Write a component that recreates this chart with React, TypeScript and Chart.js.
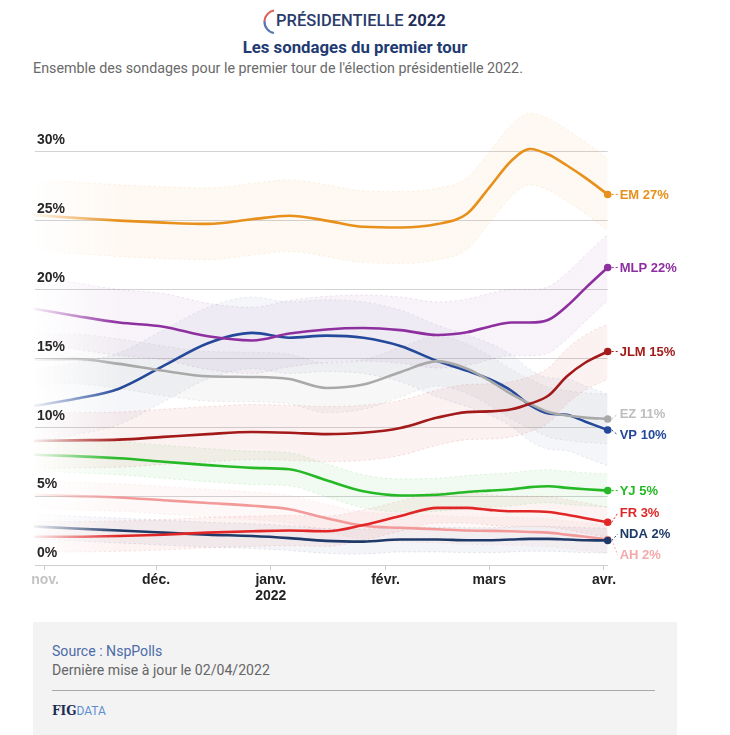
import React, { useEffect, useRef } from 'react';
import { Chart, registerables } from 'chart.js';

Chart.register(...registerables);

// Days counted from 1 Nov 2021
const DAYS = [-3, 8, 20, 32, 44, 56, 66, 76, 86, 96, 106, 114, 120, 126, 131, 136, 141, 146, 152];

const EM = [25.4, 25.2, 25.0, 24.85, 24.76, 25.1, 25.35, 25.0, 24.55, 24.5, 24.75, 25.5, 27.4, 29.35, 30.2, 29.8, 29.0, 28.1, 26.9];
const MLP = [18.6, 18.1, 17.6, 17.3, 16.6, 16.3, 16.8, 17.1, 17.2, 17.05, 16.7, 16.9, 17.3, 17.6, 17.6, 17.8, 18.8, 20.1, 21.6];
const JLM = [9.0, 9.05, 9.1, 9.3, 9.5, 9.65, 9.6, 9.5, 9.6, 9.95, 10.7, 11.1, 11.15, 11.3, 11.7, 12.3, 13.7, 14.7, 15.5];
const EZ = [14.9, 14.95, 14.6, 14.1, 13.7, 13.65, 13.5, 12.85, 13.1, 14.0, 14.8, 14.25, 13.4, 12.4, 11.7, 11.1, 10.85, 10.7, 10.6];
const VP = [11.55, 12.05, 12.8, 14.45, 16.1, 16.85, 16.5, 16.65, 16.5, 15.9, 14.8, 14.1, 13.5, 12.65, 11.6, 11.0, 10.9, 10.4, 9.8];
const YJ = [8.0, 7.9, 7.75, 7.5, 7.25, 7.05, 6.95, 6.15, 5.35, 5.05, 5.1, 5.3, 5.4, 5.5, 5.65, 5.72, 5.6, 5.5, 5.4];
const FR = [2.05, 2.05, 2.1, 2.2, 2.35, 2.45, 2.5, 2.45, 2.9, 3.55, 4.15, 4.15, 4.0, 3.9, 3.9, 3.85, 3.65, 3.4, 3.1];
const NDA = [2.8, 2.65, 2.5, 2.35, 2.2, 2.1, 1.95, 1.75, 1.7, 1.85, 1.85, 1.8, 1.8, 1.85, 1.9, 1.9, 1.85, 1.8, 1.78];
const AH = [5.1, 5.0, 4.9, 4.7, 4.5, 4.3, 4.05, 3.4, 2.85, 2.7, 2.6, 2.5, 2.48, 2.45, 2.4, 2.35, 2.2, 2.05, 1.85];

const SERIES_NAMES = ['EM', 'MLP', 'JLM', 'EZ', 'VP', 'YJ', 'FR', 'NDA', 'AH'];
const SERIES_VALUES = [EM, MLP, JLM, EZ, VP, YJ, FR, NDA, AH];
const LABEL_PCT = [27, 22, 15, 11, 10, 5, 3, 2, 2];
const BAND_HALF = [2.6, 2.4, 2.0, 1.8, 2.6, 1.2, 1.1, 0.9, 1.0];

const LINE_COLORS = ['#e8901c', '#8e2fa0', '#a31a1a', '#a9a9a9', '#24489a', '#25b925', '#e02626', '#1f3a68', '#f29a9a'];
const LABEL_COLORS = ['#e8901c', '#8e2fa0', '#a31a1a', '#bdbdbd', '#24489a', '#25b925', '#e02626', '#1f3a68', '#f4aaaa'];
const BAND_COLORS = ['#f5a54a', '#9a5ab0', '#d04040', '#909090', '#7080a8', '#40c040', '#e05050', '#5a6a90', '#f0a0a0'];

const MONTH_TICKS = [0, 30, 61, 92, 120, 151];
const MONTH_LABELS: (string | string[])[] = ['nov.', 'déc.', ['janv.', '2022'], 'févr.', 'mars', 'avr.'];
const MONTH_COLORS = ['#c4c4c4', '#222', '#222', '#222', '#222', '#222'];
const Y_TICKS = [0, 5, 10, 15, 20, 25, 30];

function rgba(hex: string, a: number) {
  const n = parseInt(hex.slice(1), 16);
  return `rgba(${n >> 16},${(n >> 8) & 255},${n & 255},${a})`;
}

function fade(ctx: any, hex: string, a: number) {
  const chart = ctx.chart;
  const ca = chart.chartArea;
  if (!ca) return rgba(hex, a);
  const g = chart.ctx.createLinearGradient(ca.left, 0, ca.left + 85, 0);
  g.addColorStop(0, rgba(hex, a * 0.08));
  g.addColorStop(1, rgba(hex, a));
  return g;
}

const lineIndex: number[] = [];
const datasets: any[] = [];
SERIES_VALUES.forEach((vals, i) => {
  const col = LINE_COLORS[i];
  const bcol = BAND_COLORS[i];
  datasets.push({
    label: SERIES_NAMES[i] + ' hi',
    data: vals.map((v, j) => ({ x: DAYS[j], y: v + BAND_HALF[i] })),
    borderColor: (c: any) => fade(c, bcol, 0.18),
    borderWidth: 1,
    borderDash: [2, 3],
    pointRadius: 0,
    fill: false,
    cubicInterpolationMode: 'monotone',
    order: 2,
  });
  datasets.push({
    label: SERIES_NAMES[i] + ' lo',
    data: vals.map((v, j) => ({ x: DAYS[j], y: Math.max(0, v - BAND_HALF[i]) })),
    borderColor: (c: any) => fade(c, bcol, 0.18),
    borderWidth: 1,
    borderDash: [2, 3],
    pointRadius: 0,
    fill: '-1',
    backgroundColor: (c: any) => fade(c, bcol, 0.07),
    cubicInterpolationMode: 'monotone',
    order: 2,
  });
  lineIndex.push(datasets.length);
  datasets.push({
    label: SERIES_NAMES[i],
    data: vals.map((v, j) => ({ x: DAYS[j], y: v })),
    borderColor: (c: any) => fade(c, col, 1),
    borderWidth: 2.6,
    pointRadius: (c: any) => (c.dataIndex === vals.length - 1 ? 3.8 : 0),
    pointBackgroundColor: col,
    pointBorderColor: col,
    pointBorderWidth: 0,
    fill: false,
    cubicInterpolationMode: 'monotone',
    clip: 10,
    order: 1,
  });
});

const labelPlugin = {
  id: 'endLabels',
  afterDatasetsDraw(chart: any) {
    const c = chart.ctx;
    const items = SERIES_NAMES.map((_, i) => {
      const meta = chart.getDatasetMeta(lineIndex[i]);
      const pt = meta.data[meta.data.length - 1];
      return { i, x: pt.x, y: pt.y };
    });
    const GAP = 20.8;
    let clusters = items.map((it) => ({ members: [it], center: it.y }));
    let changed = true;
    while (changed) {
      changed = false;
      for (let k = 0; k < clusters.length - 1; k++) {
        const a = clusters[k];
        const b = clusters[k + 1];
        const aEnd = a.center + ((a.members.length - 1) * GAP) / 2;
        const bStart = b.center - ((b.members.length - 1) * GAP) / 2;
        if (bStart - aEnd < GAP) {
          const members = a.members.concat(b.members);
          const center = members.reduce((s, m) => s + m.y, 0) / members.length;
          clusters.splice(k, 2, { members, center });
          changed = true;
          break;
        }
      }
    }
    c.save();
    clusters.forEach((cl) => {
      cl.members.forEach((m, idx) => {
        const ly = cl.center - ((cl.members.length - 1) * GAP) / 2 + idx * GAP;
        const tx = m.x + 12;
        c.strokeStyle = LABEL_COLORS[m.i];
        c.lineWidth = 1;
        c.setLineDash([2, 2]);
        c.beginPath();
        c.moveTo(m.x + 4, m.y);
        c.lineTo(tx - 2, ly);
        c.stroke();
        c.setLineDash([]);
        c.fillStyle = LABEL_COLORS[m.i];
        c.font = 'bold 13px "Liberation Sans", Arial, sans-serif';
        c.textBaseline = 'middle';
        c.textAlign = 'left';
        c.fillText(`${SERIES_NAMES[m.i]} ${LABEL_PCT[m.i]}%`, tx, ly + 0.5);
      });
    });
    c.restore();
  },
};

export default function App() {
  const ref = useRef<HTMLCanvasElement>(null);
  useEffect(() => {
    if (!ref.current) return;
    const chart = new Chart(ref.current, {
      type: 'line',
      data: { datasets },
      options: {
        animation: false,
        responsive: false,
        devicePixelRatio: 1,
        layout: { padding: { left: 35, right: 122.3, top: 9.6, bottom: 0 } },
        plugins: { legend: { display: false }, tooltip: { enabled: false } },
        scales: {
          x: {
            type: 'linear',
            min: -2.7,
            max: 152,
            afterBuildTicks: (s: any) => {
              s.ticks = MONTH_TICKS.map((v) => ({ value: v }));
            },
            afterFit: (s: any) => {
              s.height = 55;
            },
            grid: { drawOnChartArea: false, drawTicks: true, tickLength: 5, color: '#cfcfcf' },
            border: { display: true, color: '#cfcfcf' },
            ticks: {
              autoSkip: false,
              maxRotation: 0,
              padding: 2,
              font: { family: '"Liberation Sans", Arial, sans-serif', size: 14, weight: 'bold', lineHeight: 1.15 },
              color: (c: any) => MONTH_COLORS[c.index] || '#222',
              callback: (_v: any, idx: number) => MONTH_LABELS[idx],
            },
          },
          y: {
            type: 'linear',
            min: 0,
            max: 33,
            afterBuildTicks: (s: any) => {
              s.ticks = Y_TICKS.map((v) => ({ value: v }));
            },
            afterFit: (s: any) => {
              s.width = 0;
            },
            grid: { drawTicks: false, color: '#d2d2d2', lineWidth: 1 },
            border: { display: false },
            ticks: {
              mirror: true,
              padding: 2,
              labelOffset: -11.5,
              font: { family: '"Liberation Sans", Arial, sans-serif', size: 14, weight: 'bold' },
              color: '#262626',
              callback: (v: any) => v + '%',
            },
          },
        },
      },
      plugins: [labelPlugin],
    } as any);
    return () => chart.destroy();
  }, []);

  return (
    <div style={{ position: 'absolute', left: 0, top: 0, width: 730, height: 735, background: '#fff', fontFamily: 'Roboto, sans-serif', overflow: 'hidden' }}>
      <svg style={{ position: 'absolute', left: 262, top: 8 }} width={20} height={28} viewBox="0 0 20 28">
        <path d="M 12 2.5 A 11.5 11.5 0 0 0 2.5 13" stroke="#d9635a" strokeWidth={2.2} fill="none" />
        <path d="M 2.5 13 A 11.5 11.5 0 0 0 12 25" stroke="#5a76b0" strokeWidth={2.2} fill="none" />
      </svg>
      <div style={{ position: 'absolute', left: 276, top: 11, lineHeight: '20px', fontSize: 16.5, color: '#2b3b6b', fontWeight: 500, whiteSpace: 'nowrap' }}>
        PRÉSIDENTIELLE <span style={{ fontWeight: 700, color: '#1f2d5a' }}>2022</span>
      </div>
      <div style={{ position: 'absolute', left: 0, width: 710, top: 37, lineHeight: '20px', fontSize: 16.8, fontWeight: 700, color: '#1f3b72', textAlign: 'center' }}>
        Les sondages du premier tour
      </div>
      <div style={{ position: 'absolute', left: 33, top: 59, lineHeight: '18px', fontSize: 14.3, color: '#6a6a6a', whiteSpace: 'nowrap' }}>
        Ensemble des sondages pour le premier tour de l'élection présidentielle 2022.
      </div>
      <div style={{ position: 'absolute', left: 0, top: 100, width: 730, height: 520 }}>
        <canvas ref={ref} width={730} height={520} style={{ width: 730, height: 520, display: 'block' }} />
      </div>
      <div style={{ position: 'absolute', left: 33, top: 622, width: 644, height: 113, background: '#f3f3f4' }} />
      <div style={{ position: 'absolute', left: 52, top: 642, lineHeight: '18px', fontSize: 14.1, color: '#4c6ca8', whiteSpace: 'nowrap' }}>
        Source : NspPolls
      </div>
      <div style={{ position: 'absolute', left: 52, top: 661, lineHeight: '18px', fontSize: 14.1, color: '#666', whiteSpace: 'nowrap' }}>
        Dernière mise à jour le 02/04/2022
      </div>
      <div style={{ position: 'absolute', left: 52, top: 690, width: 603, height: 1, background: '#a9a9a9' }} />
      <div style={{ position: 'absolute', left: 52, top: 703, lineHeight: '14px', whiteSpace: 'nowrap' }}>
        <span style={{ fontFamily: '"DejaVu Serif", serif', fontWeight: 700, fontSize: 12, color: '#1b2b52' }}>FIG</span>
        <span style={{ fontFamily: 'Roboto, sans-serif', fontSize: 12, color: '#5b8fd0' }}>DATA</span>
      </div>
    </div>
  );
}
